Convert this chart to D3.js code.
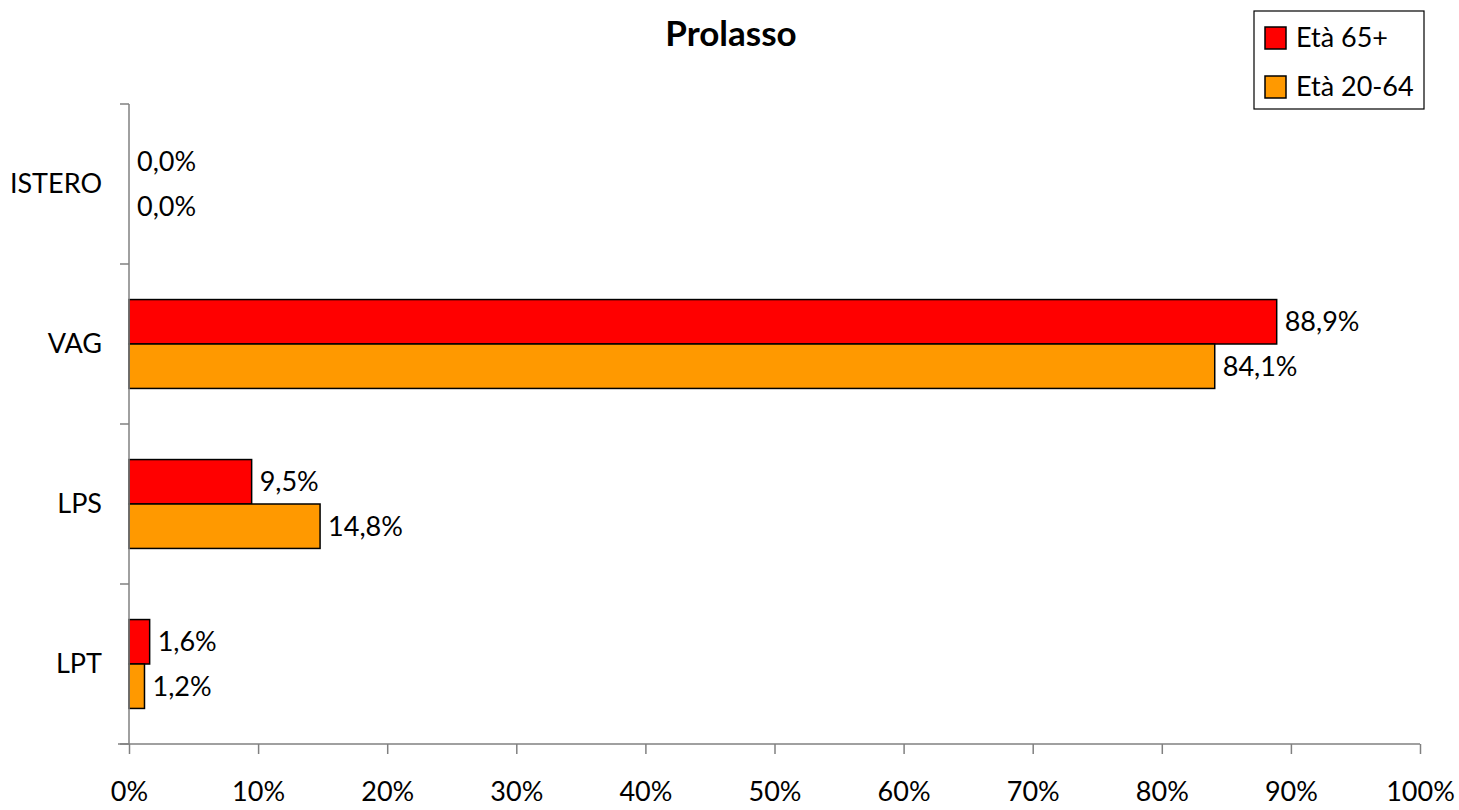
<!DOCTYPE html>
<html>
<head>
<meta charset="utf-8">
<script src="https://cdn.jsdelivr.net/npm/d3@7"></script>
<style>
  body { margin: 0; background: #fff; }
  text { font-family: Lato, "Open Sans", sans-serif; fill: #000; }
</style>
</head>
<body>
<svg width="1459" height="810"></svg>
<script>
// chart data
var categories = ["ISTERO", "VAG", "LPS", "LPT"];
var seriesNames = ["Età 65+", "Età 20-64"];
var seriesColors = ["#ff0000", "#ff9900"];
var old65 = [0.0, 88.9, 9.5, 1.6];
var young2064 = [0.0, 84.1, 14.8, 1.2];
var xTicks = [0, 10, 20, 30, 40, 50, 60, 70, 80, 90, 100];

var seriesValues = [old65, young2064];

var svg = d3.select("svg"),
    margin = {top: 104, right: 39, bottom: 66, left: 129},
    width = +svg.attr("width") - margin.left - margin.right,
    height = +svg.attr("height") - margin.top - margin.bottom;

var x = d3.scaleLinear().domain([0, 100]).range([0, width]);
var y = d3.scaleBand().domain(categories).range([0, height]).padding(0);
var ySeries = d3.scaleBand().domain([0, 1]).range([0, y.bandwidth()]).paddingInner(0).paddingOuter(0.8);

var g = svg.append("g")
    .attr("transform", "translate(" + margin.left + "," + margin.top + ")");

// title
svg.append("text")
    .attr("x", 731)
    .attr("y", 46)
    .attr("text-anchor", "middle")
    .style("font-size", "35px")
    .style("font-weight", "bold")
    .text("Prolasso");

// bars
seriesValues.forEach(function (vals, s) {
    g.selectAll(".bar" + s)
        .data(categories)
        .enter().append("rect")
        .attr("x", 0)
        .attr("y", function (d) { return y(d) + ySeries(s); })
        .attr("width", function (d, i) { return x(vals[i]); })
        .attr("height", ySeries.bandwidth())
        .attr("fill", seriesColors[s])
        .attr("stroke", function (d, i) { return vals[i] > 0 ? "#000" : "none"; })
        .attr("stroke-width", 1.5);

    g.selectAll(".lbl" + s)
        .data(categories)
        .enter().append("text")
        .attr("x", function (d, i) { return x(vals[i]) + 8; })
        .attr("y", function (d) { return y(d) + ySeries(s) + ySeries.bandwidth() / 2; })
        .attr("dy", "0.35em")
        .style("font-size", "27px")
        .text(function (d, i) { return vals[i].toFixed(1).replace(".", ",") + "%"; });
});

// y axis (ticks on the band edges)
var yEdges = categories.map(function (c) { return y(c); }).concat([height]);
g.append("line")
    .attr("x1", 0).attr("x2", 0)
    .attr("y1", 0).attr("y2", height)
    .attr("stroke", "#808080").attr("stroke-width", 1.5);
g.selectAll(".ytick")
    .data(yEdges)
    .enter().append("line")
    .attr("x1", -9).attr("x2", 0)
    .attr("y1", function (d) { return d; })
    .attr("y2", function (d) { return d; })
    .attr("stroke", "#808080").attr("stroke-width", 1.5);
g.selectAll(".ylab")
    .data(categories)
    .enter().append("text")
    .attr("x", -27)
    .attr("y", function (d) { return y(d) + y.bandwidth() / 2; })
    .attr("dy", "0.35em")
    .attr("text-anchor", "end")
    .style("font-size", "27px")
    .text(function (d) { return d; });

// x axis
var xAxis = g.append("g")
    .attr("transform", "translate(0," + height + ")")
    .call(d3.axisBottom(x).tickValues(xTicks).tickSize(10).tickPadding(28)
        .tickFormat(function (d) { return d + "%"; }));
xAxis.select(".domain").remove();
xAxis.append("line")
    .attr("x1", -11).attr("x2", width)
    .attr("stroke", "#808080").attr("stroke-width", 1.5);
xAxis.selectAll(".tick line").attr("stroke", "#808080").attr("stroke-width", 1.5);
xAxis.selectAll(".tick text")
    .style("font-size", "27px")
    .style("font-family", "Lato, 'Open Sans', sans-serif")
    .attr("fill", "#000");

// legend
var legend = svg.append("g").attr("transform", "translate(1254,11)");
legend.append("rect")
    .attr("width", 170).attr("height", 98)
    .attr("fill", "#fff").attr("stroke", "#000").attr("stroke-width", 1.2);
seriesNames.forEach(function (name, s) {
    legend.append("rect")
        .attr("x", 11).attr("y", 16 + s * 49)
        .attr("width", 21).attr("height", 22)
        .attr("fill", seriesColors[s]).attr("stroke", "#000").attr("stroke-width", 1.5);
    legend.append("text")
        .attr("x", 42).attr("y", 27 + s * 49)
        .attr("dy", "0.35em")
        .style("font-size", "27px")
        .text(name);
});
</script>
</body>
</html>
